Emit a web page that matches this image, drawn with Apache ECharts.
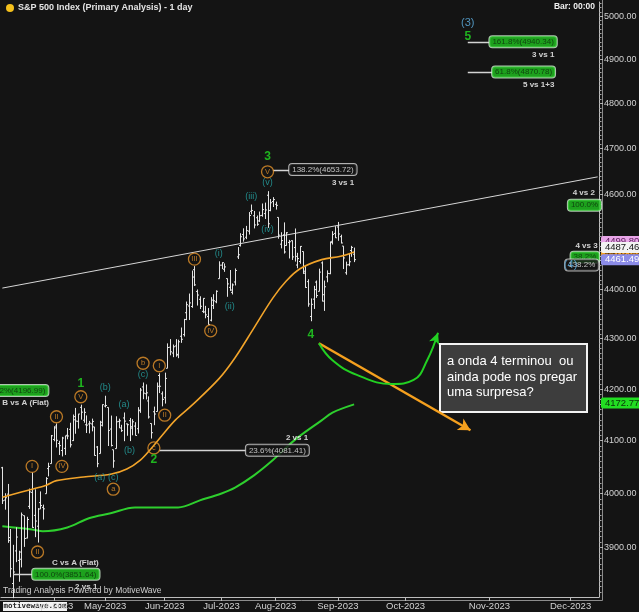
<!DOCTYPE html>
<html>
<head>
<meta charset="utf-8">
<script src="https://cdn.jsdelivr.net/npm/echarts@6.0.0/dist/echarts.min.js"></script>
<style>
html,body{margin:0;padding:0;background:#141414;overflow:hidden}
#chart{width:639px;height:612px}
</style>
</head>
<body>
<div id="chart"></div>
<script>
// ---------- trading sessions (daily bars) ----------
const sessionDays = {
  '2023-03': [7,8,9,10,13,14,15,16,17,20,21,22,23,24,27,28,29,30,31],
  '2023-04': [3,4,5,6,10,11,12,13,14,17,18,19,20,21,24,25,26,27,28],
  '2023-05': [1,2,3,4,5,8,9,10,11,12,15,16,17,18,19,22,23,24,25,26,30,31],
  '2023-06': [1,2,5,6,7,8,9,12,13,14,15,16,20,21,22,23,26,27,28,29,30],
  '2023-07': [3,5,6,7,10,11,12,13,14,17,18,19,20,21,24,25,26,27,28,31],
  '2023-08': [1,2,3,4,7,8,9,10,11,14,15,16,17,18,21,22,23,24,25,28,29,30,31],
  '2023-09': [1,5,6,7,8,11,12]
};
const futureStart = '2023-09-13';
const futureEnd = '2023-12-11';

// ---------- OHLC values ----------
const opens = [
 4048.3,3987.6,3998.7,3912.8,3835.1,3894.0,3876.7,3878.9,3958.7,3917.5,3975.9,4002.0,3959.2,3939.2,3982.9,3974.1,3999.5,4046.7,4056.2,
 4102.2,4128.0,4094.5,4081.2,4085.2,4110.3,4121.7,4100.0,4140.1,4137.2,4164.3,4139.3,4130.5,4132.1,4132.1,4126.4,4087.8,4075.3,4129.6,
 4166.8,4164.1,4122.3,4082.6,4084.7,4137.0,4124.3,4143.7,4132.2,4138.5,4126.7,4128.0,4122.9,4157.7,4204.2,4190.8,4176.8,4133.0,4155.7,4156.2,4226.7,4190.7,
 4183.0,4241.0,4283.0,4271.3,4285.5,4268.7,4304.9,4308.3,4352.6,4366.3,4365.3,4441.0,4396.1,4380.0,4355.4,4354.2,4344.8,4337.4,4367.5,4374.9,4422.4,
 4450.5,4442.0,4422.6,4404.5,4394.2,4415.6,4467.7,4491.5,4514.6,4508.9,4521.8,4563.9,4554.4,4550.2,4543.4,4555.2,4559.0,4598.3,4565.8,4584.8,
 4578.8,4550.9,4494.3,4514.0,4491.6,4498.0,4501.6,4487.2,4450.7,4458.1,4478.9,4433.8,4416.3,4344.9,4380.3,4415.3,4396.4,4455.2,4389.4,4426.0,4432.8,4500.3,4517.0,
 4530.6,4510.1,4490.4,4434.6,4451.3,4481.0,4473.3
];
const highs = [
 4050.0,4000.4,4017.8,3934.1,3905.1,3937.3,3894.3,3964.5,3958.9,3956.6,4009.1,4039.5,4007.7,3972.7,4003.8,3979.2,4030.6,4057.9,4110.8,
 4127.7,4133.1,4099.7,4107.3,4109.5,4124.3,4134.4,4150.3,4163.2,4151.7,4169.5,4162.6,4148.6,4138.0,4142.4,4126.4,4089.7,4138.2,4170.1,
 4186.9,4164.1,4148.3,4082.6,4147.0,4142.3,4130.4,4154.3,4132.8,4143.7,4141.3,4135.5,4164.7,4202.2,4212.9,4209.2,4185.7,4133.0,4165.7,4212.9,4231.1,4195.4,
 4232.4,4290.7,4299.3,4288.3,4299.2,4298.0,4322.6,4340.1,4375.4,4391.8,4439.2,4448.5,4400.2,4386.2,4382.3,4366.6,4362.1,4384.4,4390.4,4398.4,4458.5,
 4456.5,4454.1,4422.6,4440.4,4412.6,4443.6,4488.3,4517.4,4527.8,4532.9,4562.3,4578.4,4564.7,4555.0,4563.4,4580.6,4582.5,4607.1,4590.2,4594.2,
 4584.6,4550.9,4519.5,4540.3,4519.8,4503.3,4502.4,4527.4,4476.2,4490.3,4478.9,4450.0,4421.2,4381.8,4407.6,4418.6,4443.2,4458.3,4418.5,4439.6,4500.1,4521.7,4532.3,
 4541.3,4514.3,4490.4,4457.8,4473.5,4490.8,4487.1
];
const lows = [
 3980.3,3969.8,3908.7,3846.3,3808.9,3873.6,3838.2,3864.1,3901.3,3916.9,3971.2,3936.2,3919.1,3909.2,3970.5,3951.5,3999.5,4032.1,4056.2,
 4098.8,4086.9,4072.6,4069.8,4072.6,4102.6,4086.9,4099.4,4113.2,4123.2,4140.4,4134.5,4114.6,4113.9,4117.8,4071.4,4049.4,4075.3,4127.2,
 4164.1,4089.7,4088.9,4048.3,4084.7,4123.8,4116.7,4098.9,4109.3,4099.1,4110.3,4109.9,4113.6,4153.5,4180.2,4179.7,4142.5,4104.0,4129.7,4156.2,4192.2,4166.2,
 4171.6,4241.0,4266.8,4263.1,4264.0,4261.1,4291.7,4304.4,4337.5,4337.9,4362.6,4407.4,4367.2,4360.1,4351.8,4341.3,4328.1,4335.0,4360.2,4372.0,4422.4,
 4442.3,4436.6,4385.1,4397.4,4389.9,4408.5,4463.2,4489.4,4499.6,4504.9,4514.6,4557.5,4527.6,4533.0,4541.3,4552.4,4547.6,4528.6,4564.0,4573.1,
 4567.5,4505.8,4485.5,4474.6,4491.2,4464.4,4461.3,4457.9,4444.0,4453.4,4432.2,4403.6,4364.8,4335.3,4360.3,4382.8,4396.4,4375.6,4356.3,4415.0,4431.7,4493.6,4507.4,
 4501.4,4496.0,4442.4,4430.5,4448.4,4467.9,4456.8
];
const closes = [
 3986.4,3992.0,3918.3,3861.6,3855.8,3919.3,3891.9,3960.3,3916.6,3951.6,4002.9,3937.0,3948.7,3971.0,3977.5,3971.3,4027.8,4050.8,4109.3,
 4124.5,4100.6,4090.4,4105.0,4109.1,4108.9,4092.0,4146.2,4137.6,4151.3,4154.9,4154.5,4129.8,4133.5,4137.0,4071.6,4056.0,4135.4,4169.5,
 4167.9,4119.6,4090.8,4061.2,4136.3,4138.1,4119.2,4137.6,4130.6,4124.1,4136.3,4109.9,4158.8,4198.1,4192.0,4192.6,4145.6,4115.2,4151.3,4205.5,4205.5,4179.8,
 4221.0,4282.4,4273.8,4283.9,4267.5,4293.9,4298.9,4338.9,4369.0,4372.6,4425.8,4409.6,4388.7,4365.7,4381.9,4348.3,4328.8,4378.4,4376.9,4396.4,4450.4,
 4455.6,4446.8,4411.6,4399.0,4409.5,4439.3,4472.2,4510.0,4505.4,4522.8,4555.0,4565.7,4534.9,4536.3,4554.6,4567.5,4566.8,4537.4,4582.2,4589.0,
 4576.7,4513.4,4501.9,4478.0,4518.4,4499.4,4467.7,4468.8,4464.1,4489.7,4437.9,4404.3,4370.4,4369.7,4399.8,4387.6,4436.0,4376.3,4405.7,4433.3,4497.6,4514.9,4507.7,
 4515.8,4496.8,4465.5,4451.1,4457.5,4487.5,4461.9
];

// ---------- moving averages ----------
const ma50Dates  = ['2023-03-07','2023-03-22','2023-03-29','2023-04-04','2023-04-19','2023-05-03','2023-05-11','2023-05-18','2023-05-24','2023-05-31','2023-06-07','2023-06-15','2023-06-30','2023-07-11','2023-07-20','2023-07-31','2023-08-07','2023-08-14','2023-08-24','2023-09-05','2023-09-12'];
const ma50Values = [3993,4008,4015,4024,4031,4036,4046,4063,4085,4110,4140,4168,4220,4262,4322,4383,4418,4443,4462,4469,4478];
const ma200Dates  = ['2023-03-07','2023-03-22','2023-03-28','2023-04-11','2023-04-21','2023-05-03','2023-05-16','2023-06-01','2023-06-08','2023-06-21','2023-07-03','2023-07-11','2023-07-20','2023-07-31','2023-08-10','2023-08-24','2023-08-30','2023-09-12'];
const ma200Values = [3939,3933,3930,3937,3954,3963,3974,3974,3974,3987,4000,4011,4034,4063,4101,4139,4154,4170];

// ---------- axis tick labels ----------
const priceTicks = [3900,4000,4100,4200,4300,4400,4500,4600,4700,4800,4900,5000];
const monthNames = ['Jan','Feb','Mar','Apr','May','Jun','Jul','Aug','Sep','Oct','Nov','Dec'];

// ---------- annotations (x = bar index, y = price) ----------
const trendLine = [[0,4403],[220,4638]];
const orangeWaves = [['II',13,3892],['I',11,4051],['IV',22,4051],['II',20,4146],['V',29,4185],['a',41,4008],['b',52,4251],['I',58,4246],['II',60,4149],['c',56,4086],['III',71,4463],['IV',77,4316],['V',98,4649]];
const tealWaves = [['(a)',36,4030],['(c)',41,4030],['(b)',38,4203],['(a)',45,4169],['(b)',47,4081],['(c)',52,4228],['(i)',80,4475],['(ii)',84,4365],['(iii)',92,4595],['(iv)',98,4526],['(v)',98,4625]];
const greenWaves = [['1',29,4211],['2',56,4064],['3',98,4683],['4',114,4309],['5',172,4951]];
const blueWaves = [['(3)',172,4983],['(4)',210,4451]];
const noteTexts = [['B vs A (Flat)',0,4173,'left'],['C vs A (Flat)',27,3873,'center'],['2 vs 1',31,3829,'center'],['2 vs 1',113,4106,'right'],['3 vs 1',130,4626,'right'],['3 vs 1',204,4910,'right'],['5 vs 1+3',204,4841,'right'],['4 vs 2',219,4604,'right'],['4 vs 3',220,4491,'right']];
const fibBoxes = [['161.8%(4940.34)',180,4940.34,'green','left'],['61.8%(4870.78)',181,4870.78,'green','left'],['138.2%(4653.72)',106,4653.72,'dark','left'],['23.6%(4081.41)',90,4081.41,'dark','left'],['100.0%(3851.64)',11,3851.64,'green','left'],['127.2%(4196.99)',17,4196.99,'green','right'],['100.0%',209,4577,'green','left'],['38.2%',210,4467,'green','left'],['138.2%',208,4451,'dark','left']];
const fibLines = [[172,180,4940.34],[172,181,4870.78],[100,106,4653.72],[58,90,4081.41],[4,11,3851.64]];
const greenCurve = [[117,4291],[122,4257],[131,4228],[144,4210],[152,4218],[157,4257],[161,4312]];
const orangeArrow = [[117,4291],[173,4120]];
const priceTags = [['4499.80',4499.80,'#e9a6e9','#5b1d5b'],['4478.00',4478.0,'#f5a020','#3a2000'],['4487.46',4487.46,'#f2f2f2','#111111'],['4461.49',4461.49,'#8c8ce8','#ffffff'],['4172.77',4172.77,'#22dd22','#0a300a']];

// ---------- build ----------
const dates = [];
Object.keys(sessionDays).forEach(m => sessionDays[m].forEach(d => dates.push(m + '-' + String(d).padStart(2,'0'))));
{
  let t = Date.parse(futureStart + 'T00:00:00Z');
  const tEnd = Date.parse(futureEnd + 'T00:00:00Z');
  while (t <= tEnd) { dates.push(new Date(t).toISOString().slice(0,10)); t += 86400000; }
}
const ohlc = opens.map((o,i) => [i, o, highs[i], lows[i], closes[i]]);
const isMonthStart = (idx) => idx > 0 && dates[idx-1].slice(0,7) !== dates[idx].slice(0,7);
const minorTicks = [];
for (let v = 3820; v <= 5030; v += 10) minorTicks.push(v);

const FONT = "'Liberation Sans', Arial, sans-serif";
const ORANGE = '#e3922a';
const TEAL = '#27a9a9';
const GREEN = '#22dd22';

function textSeries(list, color, size, weight, extra) {
  return Object.assign({
    type: 'scatter', symbolSize: 1, z: 6, silent: true,
    itemStyle: { color: 'rgba(0,0,0,0)' },
    label: { show: true, position: 'inside', formatter: '{b}', color: color, fontSize: size, fontWeight: weight, fontFamily: FONT },
    data: list.map(a => ({ name: a[0], value: [a[1], a[2]], label: a[3] ? { align: a[3] } : undefined }))
  }, extra || {});
}

const chart = echarts.init(document.getElementById('chart'), null, { renderer: 'canvas', width: 639, height: 612 });

const option = {
  backgroundColor: '#141414',
  animation: false,
  grid: { left: 1, right: 40, top: 2, bottom: 15, containLabel: false, outerBoundsMode: 'none' },
  xAxis: {
    type: 'category', data: dates, boundaryGap: true,
    axisLine: { show: true, lineStyle: { color: '#bdbdbd', width: 1 } },
    axisTick: { show: true, alignWithLabel: true, interval: (i) => isMonthStart(i), length: 4, lineStyle: { color: '#bdbdbd' } },
    axisLabel: { interval: (i) => isMonthStart(i), formatter: (v) => monthNames[+v.slice(5,7)-1] + '-' + v.slice(0,4), color: '#d2d2d2', fontSize: 9.5, fontFamily: FONT, margin: 4 },
    splitLine: { show: false }
  },
  yAxis: [{
    type: 'log', logBase: 10, min: 3811, max: 5033, position: 'right',
    axisLine: { show: true, lineStyle: { color: '#bdbdbd' } },
    axisTick: { show: true, customValues: priceTicks, length: 4, lineStyle: { color: '#bdbdbd' } },
    axisLabel: { customValues: priceTicks, formatter: (v) => Number(v).toFixed(2), color: '#d2d2d2', fontSize: 9, fontFamily: FONT, margin: 5 },
    splitLine: { show: false }
  }, {
    type: 'log', logBase: 10, min: 3811, max: 5033, position: 'right',
    axisLine: { show: false },
    axisTick: { show: true, customValues: minorTicks, length: 2.5, lineStyle: { color: '#aaaaaa' } },
    axisLabel: { show: false },
    splitLine: { show: false }
  }],
  series: [
    {
      type: 'line', name: 'trend', data: trendLine, symbol: 'none', z: 2, silent: true,
      lineStyle: { color: '#d6d6d6', width: 1 },
      markLine: {
        silent: true, symbol: 'none', animation: false,
        lineStyle: { color: 'rgba(0,0,0,0)', width: 0 },
        data: priceTags.map(t => ({
          yAxis: t[1],
          label: { show: true, position: 'end', distance: 2, formatter: t[0], backgroundColor: t[2], color: t[3], fontSize: 9.5, fontFamily: FONT, padding: [1, 4, 0, 4], borderRadius: 2 }
        }))
      }
    },
    {
      type: 'line', name: 'MA200', data: ma200Dates.map((d,k) => [d, ma200Values[k]]),
      symbol: 'none', smooth: 0.35, z: 2, silent: true, lineStyle: { color: '#2ecf2e', width: 2 }
    },
    {
      type: 'line', name: 'MA50', data: ma50Dates.map((d,k) => [d, ma50Values[k]]),
      symbol: 'none', smooth: 0.35, z: 4, silent: true, lineStyle: { color: '#f2a42a', width: 1.6 }
    },
    {
      type: 'custom', name: 'SPX', data: ohlc, encode: { x: 0, y: [1,2,3,4] }, z: 3, silent: true,
      renderItem: (params, api) => {
        const i = api.value(0);
        const pO = api.coord([i, api.value(1)]);
        const pH = api.coord([i, api.value(2)]);
        const pL = api.coord([i, api.value(3)]);
        const pC = api.coord([i, api.value(4)]);
        const x = Math.round(pO[0]) + 0.5;
        const st = { stroke: '#e4e4e4', lineWidth: 1 };
        return { type: 'group', children: [
          { type: 'line', shape: { x1: x, y1: pH[1], x2: x, y2: pL[1] }, style: st },
          { type: 'line', shape: { x1: x - 1.5, y1: pO[1], x2: x, y2: pO[1] }, style: st },
          { type: 'line', shape: { x1: x, y1: pC[1], x2: x + 1.5, y2: pC[1] }, style: st }
        ]};
      }
    },
    {
      type: 'custom', name: 'fibLines', data: fibLines, encode: { x: [0,1], y: 2 }, z: 5, silent: true,
      renderItem: (params, api) => {
        const a = api.coord([api.value(0), api.value(2)]);
        const b = api.coord([api.value(1), api.value(2)]);
        return { type: 'line', shape: { x1: a[0], y1: Math.round(a[1]) + 0.5, x2: b[0], y2: Math.round(b[1]) + 0.5 }, style: { stroke: '#d4d4d4', lineWidth: 1.5 } };
      }
    },
    {
      type: 'line', name: 'curveArrow', silent: true, z: 5, smooth: 0.45, showAllSymbol: true, symbol: 'none',
      lineStyle: { color: '#22d022', width: 2 }, itemStyle: { color: '#22d022' },
      data: greenCurve.map((p, k) => k === greenCurve.length - 1 ? { value: p, symbol: 'arrow', symbolSize: [8, 11], symbolRotate: -21 } : p),
      markLine: {
        silent: true, animation: false, symbol: ['none', 'arrow'], symbolSize: [10, 12],
        lineStyle: { color: '#f5a01e', width: 2.5, type: 'solid' },
        label: { show: false },
        data: [[{ coord: orangeArrow[0] }, { coord: orangeArrow[1] }]]
      }
    },
    {
      type: 'scatter', name: 'orangeWaves', symbol: 'circle', symbolSize: 12, z: 6, silent: true,
      itemStyle: { color: 'rgba(0,0,0,0)', borderColor: ORANGE, borderWidth: 1.3 },
      label: { show: true, position: 'inside', formatter: '{b}', color: ORANGE, fontSize: 7.5, fontFamily: FONT },
      data: orangeWaves.map(a => ({ name: a[0], value: [a[1], a[2]] }))
    },
    textSeries(tealWaves, TEAL, 9, 'normal'),
    textSeries(greenWaves, GREEN, 12, 'bold'),
    textSeries(blueWaves, '#5fb3e6', 11, 'normal', { z: 8 }),
    textSeries(noteTexts, '#ffffff', 8, 'bold'),
    {
      type: 'scatter', name: 'fibBoxes', symbolSize: 1, z: 7, silent: true,
      itemStyle: { color: 'rgba(0,0,0,0)' },
      data: fibBoxes.map(b => ({
        name: b[0], value: [b[1], b[2]],
        label: b[3] === 'green'
          ? { show: true, position: 'inside', align: b[4], formatter: '{b}', fontSize: 8, fontFamily: FONT, color: '#0c2c0c', backgroundColor: '#1fc41f', borderColor: '#d6f2d6', borderWidth: 1, borderRadius: 3, padding: [2, 3, 1, 3] }
          : { show: true, position: 'inside', align: b[4], formatter: '{b}', fontSize: 8, fontFamily: FONT, color: '#e8e8e8', backgroundColor: '#141414', borderColor: '#d8d8d8', borderWidth: 1, borderRadius: 3, padding: [2, 3, 1, 3] }
      }))
    }
  ],
  graphic: [
    { type: 'line', shape: { x1: 602.5, y1: 0, x2: 602.5, y2: 600.5 }, style: { stroke: '#8c8c8c', lineWidth: 1 }, silent: true },
    { type: 'line', shape: { x1: 0, y1: 600.5, x2: 602.5, y2: 600.5 }, style: { stroke: '#8c8c8c', lineWidth: 1 }, silent: true },
    { type: 'circle', shape: { cx: 10, cy: 8, r: 4 }, style: { fill: '#f4c01c' }, silent: true },
    { type: 'text', x: 18, y: 8, style: { text: 'S&P 500 Index (Primary Analysis) - 1 day', fill: '#e4e4e4', font: 'bold 9px ' + FONT, verticalAlign: 'middle' }, silent: true },
    { type: 'text', x: 595, y: 7, style: { text: 'Bar: 00:00', fill: '#f0f0f0', font: 'bold 8.5px ' + FONT, align: 'right', verticalAlign: 'middle' }, silent: true },
    {
      type: 'group', x: 440, y: 344, silent: true, z: 20,
      children: [
        { type: 'rect', shape: { x: 0, y: 0, width: 147, height: 68 }, style: { fill: '#3d3d3d', stroke: '#f2f2f2', lineWidth: 2 } },
        { type: 'text', x: 7, y: 10, style: { text: 'a onda 4 terminou  ou\nainda pode nos pregar\numa surpresa?', fill: '#ffffff', font: '13px ' + FONT, lineHeight: 15.5, verticalAlign: 'top' } }
      ]
    },
    { type: 'text', x: 3, y: 591, z: 20, style: { text: 'Trading Analysis Powered by MotiveWave', fill: '#cfcfcf', font: '8.5px ' + FONT, verticalAlign: 'middle' }, silent: true },
    {
      type: 'group', x: 3, y: 602, silent: true, z: 20,
      children: [
        { type: 'rect', shape: { x: 0, y: 0, width: 64, height: 9 }, style: { fill: '#f4f4f4' } },
        { type: 'text', x: 32, y: 4.5, style: { text: 'motivewave.com', fill: '#2a2a2a', font: 'bold 7.5px DejaVu Sans Mono', align: 'center', verticalAlign: 'middle' } }
      ]
    }
  ]
};
chart.setOption(option);
</script>
</body>
</html>
